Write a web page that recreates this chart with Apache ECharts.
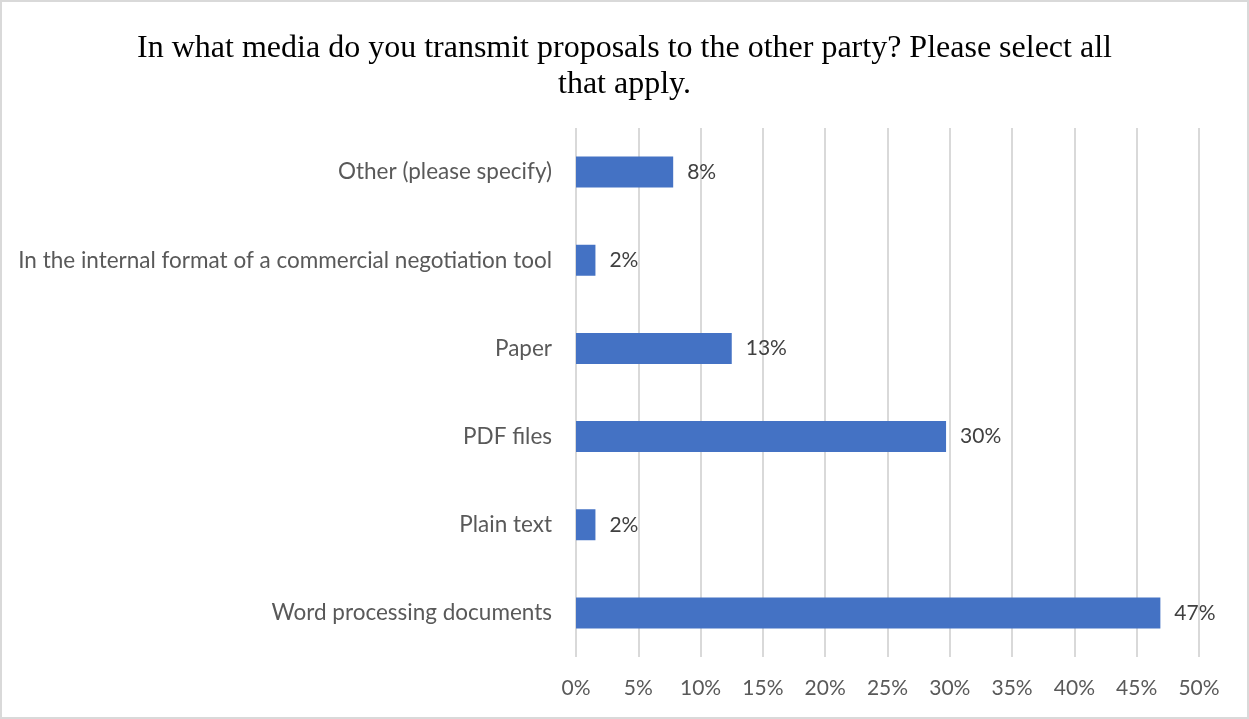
<!DOCTYPE html>
<html>
<head>
<meta charset="utf-8">
<script src="https://cdn.jsdelivr.net/npm/echarts@6/dist/echarts.min.js"></script>
<style>
  html, body { margin: 0; padding: 0; background: #fff; }
  #chart { width: 1249px; height: 719px; box-sizing: border-box; border: 2px solid #d9d9d9; }
</style>
</head>
<body>
<div id="chart"></div>
<script>
// Survey answers, listed bottom-to-top as drawn on the category axis
const categories = [
  'Word processing documents',
  'Plain text',
  'PDF files',
  'Paper',
  'In the internal format of a commercial negotiation tool',
  'Other (please specify)'
];
// Share of respondents, in percent
const shares = [46.9, 1.56, 29.7, 12.5, 1.56, 7.8];
const xTicks = [0, 5, 10, 15, 20, 25, 30, 35, 40, 45, 50];

const chart = echarts.init(document.getElementById('chart'), null, { renderer: 'canvas' });
chart.setOption({
  animation: false,
  backgroundColor: '#ffffff',
  title: {
    text: 'In what media do you transmit proposals to the other party? Please select all\nthat apply.',
    left: 'center',
    top: 24,
    textStyle: {
      fontFamily: '"Liberation Serif", "Times New Roman", serif',
      fontSize: 32,
      fontWeight: 'normal',
      color: '#000000',
      lineHeight: 36
    }
  },
  grid: { left: 574, right: 48, top: 126, bottom: 60, containLabel: false },
  xAxis: {
    type: 'value',
    min: xTicks[0],
    max: xTicks[xTicks.length - 1],
    interval: 5,
    axisLine: { show: false },
    axisTick: { show: false },
    splitLine: { show: true, lineStyle: { color: '#d9d9d9', width: 2 } },
    axisLabel: {
      formatter: v => v + '%',
      color: '#595959',
      fontFamily: 'Lato, "Open Sans", sans-serif',
      fontSize: 21,
      margin: 21
    }
  },
  yAxis: {
    type: 'category',
    data: categories,
    axisLine: { show: false },
    axisTick: { show: false },
    axisLabel: {
      color: '#595959',
      fontFamily: 'Lato, "Open Sans", sans-serif',
      fontSize: 22.5,
      margin: 24
    }
  },
  series: [{
    type: 'bar',
    data: shares,
    barWidth: 31,
    itemStyle: { color: '#4472c4' },
    label: {
      show: true,
      position: 'right',
      distance: 14,
      formatter: p => Math.round(p.value) + '%',
      color: '#404040',
      fontFamily: 'Lato, "Open Sans", sans-serif',
      fontSize: 21
    }
  }]
});
</script>
</body>
</html>
